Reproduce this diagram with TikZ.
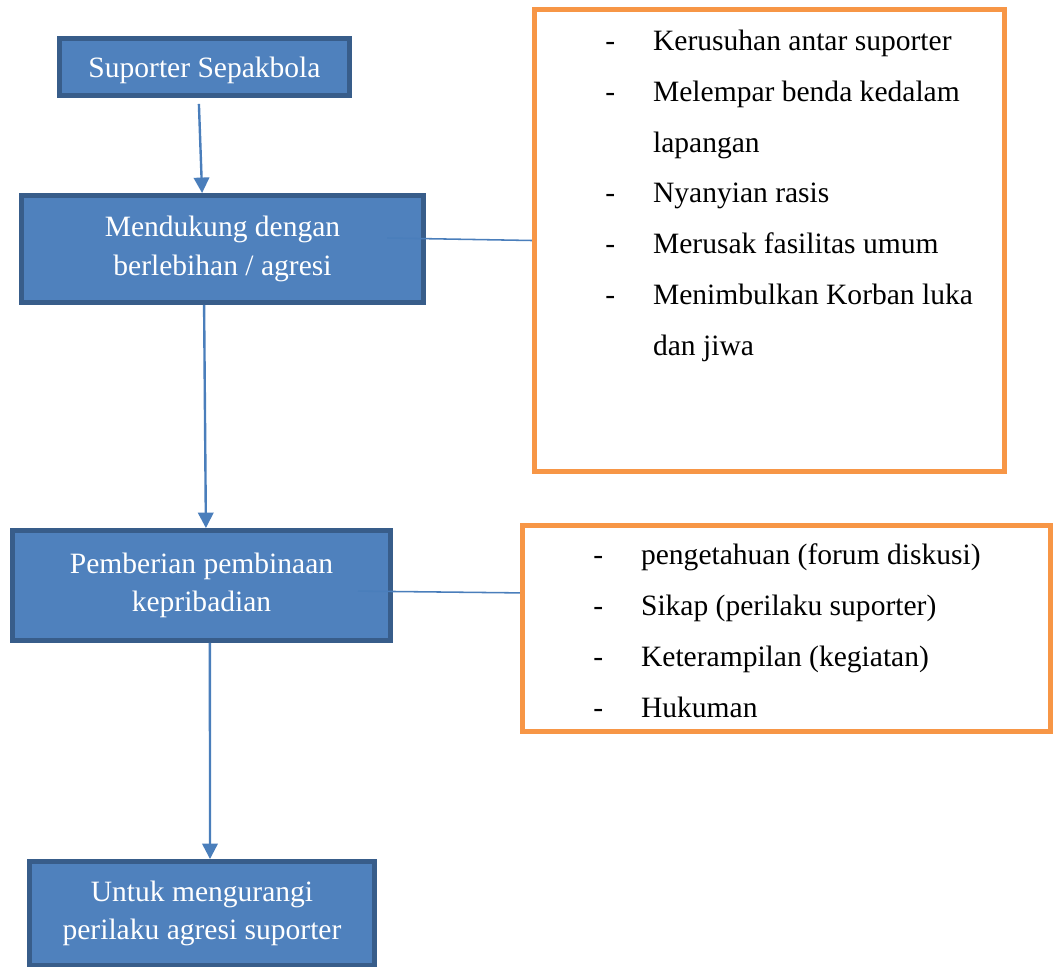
\documentclass[tikz,border=0pt]{standalone}
\usepackage{fontspec}
\setmainfont{Liberation Serif}
\usetikzlibrary{arrows.meta,positioning}

\definecolor{boxfill}{HTML}{4F81BD}
\definecolor{boxline}{HTML}{385D8A}
\definecolor{plateline}{HTML}{F79646}
\definecolor{linkblue}{HTML}{4A7EBB}

\newcommand\itemdash{\makebox[34pt][l]{-}}

\begin{document}
\begin{tikzpicture}
    [
      x=0.025cm,y=-0.025cm,
      block/.style={rectangle,draw=boxline,fill=boxfill,line width=3.5pt,text=white,align=center,inner sep=0pt,font=\fontsize{21}{27.4}\selectfont},
      plate/.style={rectangle,draw=plateline,fill=white,line width=3.5pt,inner sep=0pt},
      items/.style={align=left,inner sep=0pt,anchor=base west,font=\fontsize{21}{36.07}\selectfont},
      post/.style={-{Triangle[width=11pt,length=11pt]},draw=linkblue,line width=1.7pt},
      link/.style={draw=linkblue,line width=1.1pt},
    ]

    \useasboundingbox (0,0) rectangle (1053,967);

    \node (supporter) [block,text depth=0pt,minimum width=7.25cm,minimum height=1.425cm] at (204.5,67) {Suporter Sepakbola};

    \node (support-aggr) [block,minimum width=10.05cm,minimum height=2.675cm] at (222.5,249) {Mendukung dengan\\berlebihan / agresi};

    \node (coaching) [block,minimum width=9.45cm,minimum height=2.75cm] at (201.5,585.5) {Pemberian pembinaan\\kepribadian};

    \node (reduce) [block,minimum width=8.625cm,minimum height=2.6cm] at (202,913.5) {Untuk mengurangi\\perilaku agresi suporter};

    % lists are placed by the baseline of their last line
    \node (plate-harm) [plate,minimum width=11.75cm,minimum height=11.55cm] at (769.5,240.5) {};
    \node (harm-list) [items] at (605,355) {\itemdash Kerusuhan antar suporter\\
      \itemdash Melempar benda kedalam\\
      \hspace*{34pt}lapangan\\
      \itemdash Nyanyian rasis\\
      \itemdash Merusak fasilitas umum\\
      \itemdash Menimbulkan Korban luka\\
      \hspace*{34pt}dan jiwa};

    \node (plate-coach) [plate,minimum width=13.2cm,minimum height=5.15cm] at (786.5,628.5) {};
    \node (coach-list) [items] at (593,717) {\itemdash pengetahuan (forum diskusi)\\
      \itemdash Sikap (perilaku suporter)\\
      \itemdash Keterampilan (kegiatan)\\
      \itemdash Hukuman};

    \path
    ([xshift=-0.14cm,yshift=-0.15cm]supporter.south) edge [post] ([xshift=-0.51cm]support-aggr.north)
    ([xshift=-0.46cm]support-aggr.south) edge [post] ([xshift=0.11cm]coaching.north)
    ([xshift=0.21cm]coaching.south) edge [post] ([xshift=0.2cm]reduce.north)

    ([xshift=-0.97cm,yshift=0.275cm]support-aggr.east) edge [link] (plate-harm.west)
    ([xshift=-0.875cm,yshift=-0.14cm]coaching.east) edge [link] ([yshift=0.89cm]plate-coach.west)
    ;

  \end{tikzpicture}
\end{document}
